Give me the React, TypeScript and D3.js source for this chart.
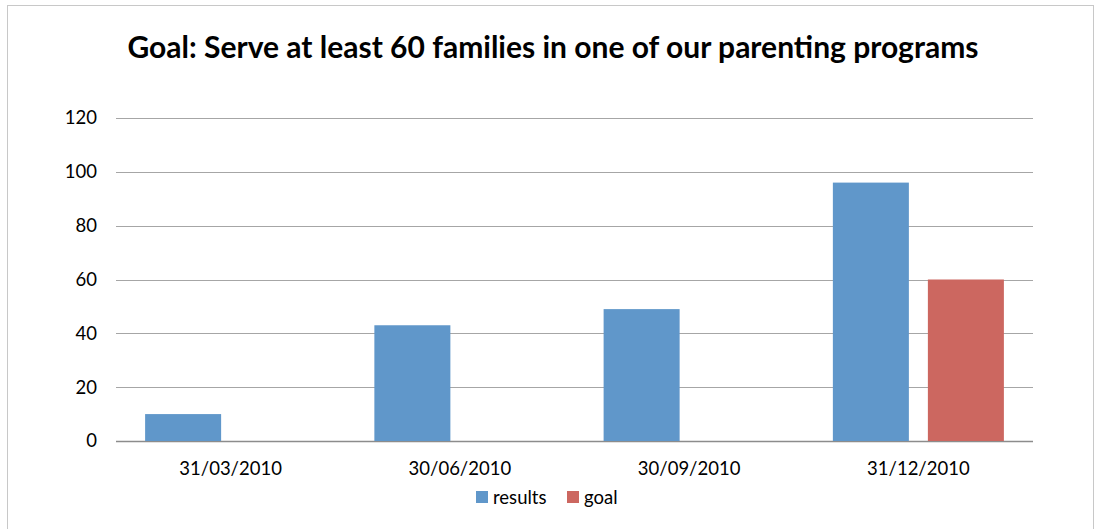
import React from 'react';
import * as d3 from 'd3';

const categories = ['31/03/2010', '30/06/2010', '30/09/2010', '31/12/2010'];
const seriesNames = ['results', 'goal'];
const results = [10, 43, 49, 96];
const goal = [null, null, null, 60];
const yTicks = [0, 20, 40, 60, 80, 100, 120];

const width = 1095;
const height = 529;
const colors = ['#6097CA', '#CC6760'];
const font = 'Lato, Carlito, "Open Sans", sans-serif';

const App: React.FC = () => {
    const x0 = d3.scaleBand<string>()
        .domain(categories)
        .range([116, 1033])
        .paddingInner(0.254)
        .paddingOuter(0.127);
    // band here covers both bars of a category
    const x1 = d3.scaleBand<string>()
        .domain(seriesNames)
        .range([0, x0.bandwidth()])
        .paddingInner(0.2);

    const y = d3.scaleLinear().domain([0, 120]).range([441, 118]);

    const rows = categories.map((c, i) => ({
        cat: c,
        values: [results[i], goal[i]],
    }));

    return (
        <svg
            width={width}
            height={height}
            style={{ position: 'absolute', left: 0, top: 0, background: '#fff' }}
        >
            <rect x={7.5} y={5.5} width={1086} height={540} fill="#fff" stroke="#c8c8c8" strokeWidth={1} />

            <text
                x={553}
                y={58}
                textAnchor="middle"
                fontFamily={font}
                fontWeight="bold"
                fontSize={30}
                fill="#000"
            >
                Goal: Serve at least 60 families in one of our parenting programs
            </text>

            <g className="grid">
                {yTicks.map(t => (
                    <g key={t}>
                        <line
                            x1={116}
                            x2={1033}
                            y1={Math.round(y(t)) + 0.5}
                            y2={Math.round(y(t)) + 0.5}
                            stroke={t === 0 ? '#8c8c8c' : '#a6a6a6'}
                            strokeWidth={t === 0 ? 1.5 : 1.2}
                        />
                        <text
                            x={97}
                            y={y(t)}
                            dy="0.35em"
                            textAnchor="end"
                            fontFamily={font}
                            fontSize={18.5}
                            fill="#000"
                        >
                            {t}
                        </text>
                    </g>
                ))}
            </g>

            <g className="bars">
                {rows.map(r => (
                    <g key={r.cat} transform={`translate(${x0(r.cat)},0)`}>
                        {r.values.map((v, j) =>
                            v == null ? null : (
                                <rect
                                    key={j}
                                    x={x1(seriesNames[j])}
                                    y={y(v)}
                                    width={x1.bandwidth()}
                                    height={y(0) - y(v)}
                                    fill={colors[j]}
                                />
                            )
                        )}
                    </g>
                ))}
            </g>

            <g className="x-axis">
                {categories.map(c => (
                    <text
                        key={c}
                        x={(x0(c) ?? 0) + x0.bandwidth() / 2}
                        y={475}
                        textAnchor="middle"
                        fontFamily={font}
                        fontSize={18.5}
                        fill="#000"
                    >
                        {c}
                    </text>
                ))}
            </g>

            <g className="legend">
                {seriesNames.map((s, i) => {
                    const lx = i === 0 ? 476 : 567;
                    return (
                        <g key={s}>
                            <rect x={lx} y={491} width={12} height={12} fill={colors[i]} />
                            <text
                                x={lx + 17}
                                y={504}
                                fontFamily={font}
                                fontSize={18.5}
                                fill="#000"
                            >
                                {s}
                            </text>
                        </g>
                    );
                })}
            </g>
        </svg>
    );
};

export default App;
